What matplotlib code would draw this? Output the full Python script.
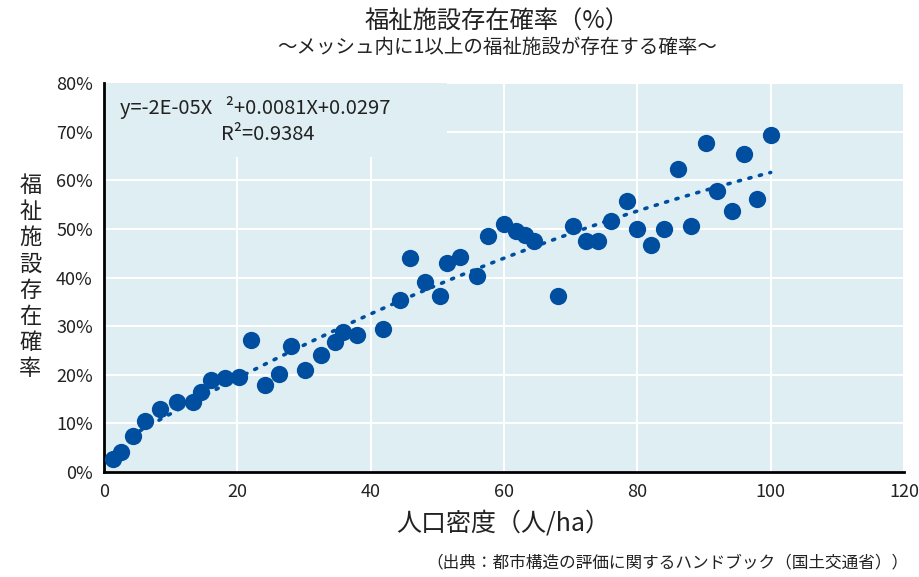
import numpy as np
import matplotlib
matplotlib.use("Agg")
import matplotlib.pyplot as plt

plt.rcParams['font.family'] = ['Noto Sans CJK JP', 'DejaVu Sans']

# population density (人/ha) and probability of a welfare facility (%)
density = [1.4, 2.5, 4.4, 6.1, 8.4, 10.9, 13.4, 14.6, 16.0, 18.1, 20.3, 22.1,
           24.2, 26.2, 28.1, 30.2, 32.5, 34.6, 35.8, 38.0, 41.9, 44.4, 45.9,
           48.1, 50.4, 51.5, 53.4, 55.9, 57.6, 60.0, 61.8, 63.1, 64.5, 68.1,
           70.4, 72.3, 74.1, 76.0, 78.5, 79.9, 82.1, 84.0, 86.1, 88.1, 90.3,
           92.0, 94.2, 96.0, 97.9, 100.0]
prob = [2.7, 4.1, 7.3, 10.5, 13.0, 14.4, 14.4, 16.4, 19.0, 19.3, 19.5, 27.2,
        17.9, 20.2, 25.9, 21.0, 24.0, 26.8, 28.8, 28.1, 29.4, 35.3, 44.0,
        39.0, 36.3, 43.0, 44.3, 40.4, 48.5, 51.1, 49.6, 48.8, 47.6, 36.2,
        50.5, 47.5, 47.5, 51.6, 55.8, 50.0, 46.6, 50.0, 62.4, 50.5, 67.6,
        57.8, 53.7, 65.5, 56.1, 69.3]

x_ticks = [0, 20, 40, 60, 80, 100, 120]
y_ticks = [0, 10, 20, 30, 40, 50, 60, 70, 80]

BG = '#deeef3'
DOT = '#004ea0'
TXT = '#222222'

fig = plt.figure(figsize=(9.2, 5.77), dpi=100)
ax = fig.add_axes([0.113, 0.182, 0.8696, 0.674])
ax.set_facecolor(BG)

x = np.array(density)
y = np.array(prob) / 100

# quadratic trend line
coef = np.polyfit(x, y, 2)
xs = np.linspace(4, x.max(), 200)
ax.plot(xs, np.polyval(coef, xs), linestyle=(0, (0.6, 2.4)), dash_capstyle='round',
        color=DOT, lw=2.6, zorder=3)

ax.scatter(x, y, s=155, color=DOT, zorder=4, linewidths=0, clip_on=False)

ax.set_xlim(0, 120)
ax.set_ylim(0, 0.8)
ax.set_xticks(x_ticks)
ax.set_xticklabels([str(t) for t in x_ticks])
ax.set_yticks([t / 100 for t in y_ticks])
ax.set_yticklabels([f'{t}%' for t in y_ticks])
ax.tick_params(length=0, labelsize=13, pad=8, colors=TXT)

ax.grid(True, color='white', lw=1.5)
ax.set_axisbelow(True)
for s in ['top', 'right']:
    ax.spines[s].set_visible(False)
for s in ['left', 'bottom']:
    ax.spines[s].set_color('black')
    ax.spines[s].set_linewidth(2)

# equation area hides the grid behind it
ax.add_patch(plt.Rectangle((0, 0.648), 51.4, 0.152, facecolor=BG, edgecolor='none',
                           zorder=1.5))
ax.text(0.02, 0.938, 'y=-2E-05X   ²+0.0081X+0.0297', transform=ax.transAxes,
        fontsize=14.5, va='center', ha='left', color=TXT, zorder=2)
ax.text(0.205, 0.869, 'R²=0.9384', transform=ax.transAxes,
        fontsize=14.5, va='center', ha='center', color=TXT, zorder=2)

fig.text(0.54, 0.962, '福祉施設存在確率（%）', ha='center', va='center', fontsize=17.5,
         color=TXT)
fig.text(0.54, 0.917, '～メッシュ内に1以上の福祉施設が存在する確率～', ha='center',
         va='center', fontsize=14, color=TXT)
fig.text(0.033, 0.52, '\n'.join('福祉施設存在確率'), ha='center', va='center',
         fontsize=16, linespacing=1.18, color=TXT)
fig.text(0.547, 0.093, '人口密度（人/ha）', ha='center', va='center', fontsize=18,
         color=TXT)
fig.text(0.987, 0.024, '（出典：都市構造の評価に関するハンドブック（国土交通省））',
         ha='right', va='center', fontsize=12, color=TXT)

fig.savefig('out.png', dpi=100, facecolor='white')
